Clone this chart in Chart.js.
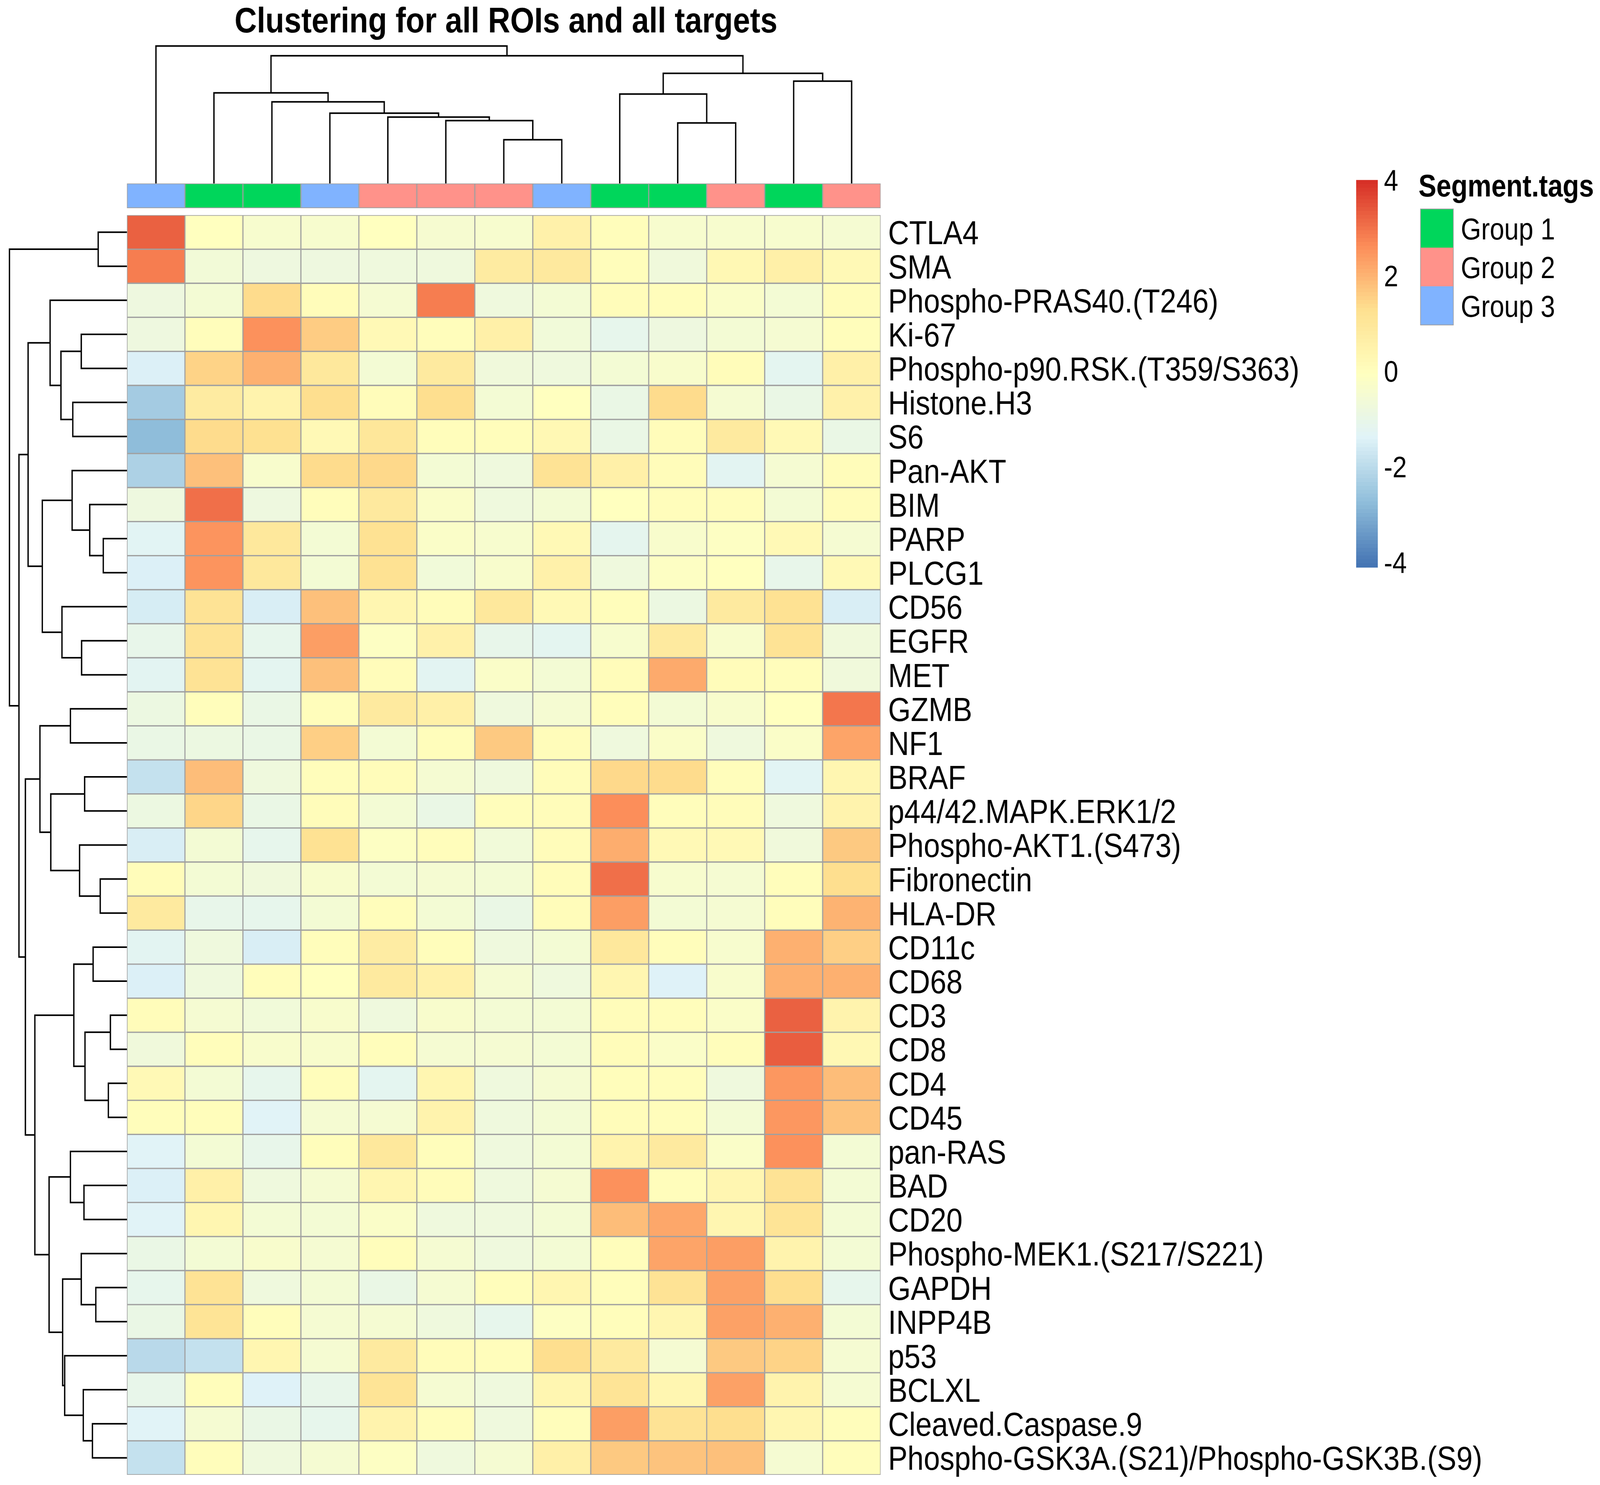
<!DOCTYPE html>
<html>
<head>
<meta charset="utf-8">
<script src="https://cdn.jsdelivr.net/npm/chart.js@4.4.1/dist/chart.umd.min.js"></script>
<style>
  html, body { margin: 0; padding: 0; width: 100%; height: 100%; background: #ffffff; overflow: hidden; }
  #frame { position: fixed; left: 0; top: 0; width: 100vw; height: 100vh; overflow: hidden; }
  #wrap { position: absolute; left: 0; top: 0; width: 4724px; height: 3802px; transform-origin: 0 0; }
</style>
</head>
<body>
<div id="frame"><div id="wrap"><canvas id="heat" width="4724" height="3802"></canvas></div></div>
<script>
/* ─── Data ─────────────────────────────────── */
const rowLabels = [
    'CTLA4', 'SMA', 'Phospho-PRAS40.(T246)', 'Ki-67', 'Phospho-p90.RSK.(T359/S363)',
    'Histone.H3', 'S6', 'Pan-AKT', 'BIM', 'PARP', 'PLCG1', 'CD56', 'EGFR', 'MET',
    'GZMB', 'NF1', 'BRAF', 'p44/42.MAPK.ERK1/2', 'Phospho-AKT1.(S473)', 'Fibronectin',
    'HLA-DR', 'CD11c', 'CD68', 'CD3', 'CD8', 'CD4', 'CD45', 'pan-RAS', 'BAD', 'CD20',
    'Phospho-MEK1.(S217/S221)', 'GAPDH', 'INPP4B', 'p53', 'BCLXL', 'Cleaved.Caspase.9',
    'Phospho-GSK3A.(S21)/Phospho-GSK3B.(S9)'
];

// Segment tag of each ROI column (1, 2, 3), in dendrogram order
const colGroups = [3, 1, 1, 3, 2, 2, 2, 3, 1, 1, 2, 1, 2];
const groupNames = ['Group 1', 'Group 2', 'Group 3'];

// scaled values, one row per target, columns in displayed order
const cellValues = [
    [3.3, 0, -0.35, -0.35, 0, -0.4, -0.35, 0.6, 0.1, -0.35, -0.35, -0.35, -0.45],
    [2.9, -0.55, -0.75, -0.75, -0.7, -0.7, 0.85, 0.95, 0.1, -0.65, 0.3, 0.65, 0.25],
    [-0.75, -0.5, 1.4, 0.15, -0.45, 2.9, -0.7, -0.5, 0.15, 0.1, -0.2, -0.5, 0.15],
    [-0.75, 0.1, 2.6, 1.65, 0.25, 0.1, 0.65, -0.6, -1.05, -0.75, -0.5, -0.45, 0.1],
    [-1.4, 1.55, 2.1, 1.0, -0.5, 0.9, -0.65, -0.7, -0.5, -0.3, 0.15, -1.15, 0.65],
    [-2.35, 0.85, 0.5, 1.35, 0.15, 1.35, -0.5, 0, -0.9, 1.4, -0.45, -0.9, 0.6],
    [-2.7, 1.4, 1.3, 0.25, 1.05, 0.1, 0.1, 0.3, -0.9, 0.15, 0.9, 0.25, -0.9],
    [-2.2, 1.85, -0.3, 1.4, 1.45, -0.5, -0.7, 1.2, 0.65, 0.15, -1.2, -0.45, 0.15],
    [-0.75, 3.1, -0.75, 0.1, 0.95, -0.2, -0.7, -0.5, 0, 0.1, 0.1, -0.5, 0.15],
    [-1.25, 2.55, 1.0, -0.5, 1.25, -0.2, -0.35, 0.25, -1.1, -0.3, -0.1, 0.25, -0.45],
    [-1.4, 2.55, 1.0, -0.5, 1.25, -0.6, -0.3, 0.6, -0.7, -0.1, 0, -1.0, 0.25],
    [-1.5, 1.2, -1.45, 1.85, 0.4, 0.15, 1.0, 0.25, 0.1, -0.8, 0.9, 1.25, -1.45],
    [-1.0, 1.2, -1.05, 2.4, -0.1, 0.6, -1.0, -1.15, -0.35, 0.9, -0.3, 1.2, -0.65],
    [-1.2, 1.2, -1.15, 1.85, 0.15, -1.2, -0.2, -0.5, 0.15, 2.2, 0.15, 0.1, -0.65],
    [-0.8, 0.1, -0.9, 0.1, 0.9, 0.65, -0.7, -0.45, 0.1, -0.5, -0.3, 0, 3.0],
    [-0.9, -0.8, -0.9, 1.6, -0.5, 0.1, 1.7, 0.15, -0.7, -0.2, -0.7, -0.2, 2.3],
    [-1.8, 1.9, -0.7, 0.1, 0.15, -0.45, -0.7, 0.15, 1.45, 1.4, 0.1, -1.25, 0.4],
    [-0.8, 1.5, -0.9, 0.15, -0.5, -0.9, 0.1, 0.15, 2.65, 0.1, 0.15, -0.7, 0.5],
    [-1.45, -0.5, -1.05, 1.25, -0.1, 0.1, -0.6, 0.15, 2.15, 0.25, 0.25, -0.65, 1.7],
    [0.15, -0.5, -0.65, -0.3, -0.5, -0.45, -0.5, 0.15, 3.1, -0.35, -0.45, 0.1, 1.35],
    [0.9, -1.0, -1.05, -0.5, 0.1, -0.5, -0.9, 0.15, 2.4, -0.5, -0.45, 0.1, 2.05],
    [-1.2, -0.7, -1.45, 0.1, 0.8, 0.1, -0.7, -0.5, 1.0, 0.1, -0.35, 2.1, 1.6],
    [-1.4, -0.7, 0.1, 0, 0.9, 0.6, -0.45, -0.7, 0.4, -1.35, -0.3, 2.1, 2.1],
    [0.15, -0.45, -0.6, -0.3, -0.7, -0.3, -0.5, -0.5, 0.15, 0.1, -0.2, 3.3, 0.5],
    [-0.65, 0.1, -0.3, -0.3, 0.1, -0.45, -0.45, -0.5, 0.15, -0.2, 0.1, 3.35, 0.3],
    [0.25, -0.5, -1.05, 0.1, -1.15, 0.4, -0.7, -0.45, 0.1, 0.1, -0.7, 2.5, 1.9],
    [0.1, 0.1, -1.3, -0.45, -0.45, 0.5, -0.7, -0.5, 0.15, 0.1, -0.5, 2.5, 1.8],
    [-1.3, -0.5, -1.0, 0.1, 1.0, 0.1, -0.7, -0.5, 0.5, 0.9, -0.2, 2.6, -0.5],
    [-1.4, 0.65, -0.7, -0.45, 0.4, 0.15, -0.7, -0.45, 2.6, 0.1, 0.4, 1.2, -0.5],
    [-1.3, 0.4, -0.5, -0.5, -0.2, -0.7, -0.7, -0.5, 1.9, 2.25, 0.4, 1.15, -0.5],
    [-0.9, -0.5, -0.3, -0.45, 0.1, -0.45, -0.7, -0.5, 0.1, 2.3, 2.4, 0.5, -0.5],
    [-1.05, 1.2, -0.7, -0.5, -0.9, -0.45, 0.1, 0.4, 0.1, 1.2, 2.35, 1.35, -1.05],
    [-0.9, 1.15, 0.1, -0.45, -0.45, -0.7, -1.05, -0.1, 0.1, 0.4, 2.35, 2.1, -0.5],
    [-2.0, -1.8, 0.4, -0.45, 0.9, 0.15, 0.1, 1.35, 0.9, -0.45, 1.7, 1.55, -0.45],
    [-1.0, 0.1, -1.35, -1.0, 1.15, -0.45, -0.7, 0.4, 1.15, 0.4, 2.35, 0.5, -0.45],
    [-1.3, -0.45, -0.9, -1.05, 0.5, 0.1, -0.7, 0.1, 2.4, 1.2, 1.35, 0.4, 0.1],
    [-1.8, 0.1, -0.7, -0.45, -0.1, -0.7, -0.45, 0.65, 1.7, 1.8, 1.85, -0.45, 0.1]
];

// hclust-style merges: negative = leaf -(index+1), positive = earlier merge (1-based)
const rowMerges = [
    [-24, -25], [-26, -27], [-10, -11], [-20, -21], [-1, -2], [-32, -33],
    [-22, -23], [-36, -37], [-9, 3], [1, 2], [-17, -18], [-29, -30],
    [-35, 8], [-13, -14], [-4, -5], [-31, 6], [-19, 4], [7, 10],
    [-6, -7], [-8, 9], [-15, -16], [-28, 12], [-34, 13], [16, 23],
    [-12, 14], [15, 19], [11, 17], [-3, 26], [22, 24], [20, 25],
    [21, 27], [18, 29], [28, 30], [31, 32], [33, 34], [5, 35]
];
const rowHeights = [
    49, 55, 70, 79, 85, 92, 100, 102, 110, 124, 125, 127,
    129, 134, 135, 135, 140, 157, 160, 162, 167, 167, 184, 190,
    192, 195, 225, 227, 230, 250, 257, 272, 292, 300, 319, 347
];

const colMerges = [
    [-7, -8], [-10, -11], [-6, 1], [-5, 3], [-4, 4], [-3, 5],
    [-9, 2], [-2, 6], [-12, -13], [7, 9], [8, 10], [-1, 11]
];
const colHeights = [112, 155, 161, 170, 180, 209, 229, 232, 262, 282, 327, 352];

const legendTicks = [4, 2, 0, -2, -4];

/* ─── Styles ───────────────────────────────── */
const palette = ['#4575B4', '#91BFDB', '#E0F3F8', '#FFFFBF', '#FEE090', '#FC8D59', '#D73027'];
const groupColors = ['#00D65B', '#FF928A', '#80B3FF'];
const gridGrey = '#A0A0A0';
const FONT = "'Liberation Sans', Arial, Helvetica, sans-serif";
const ROW_UNIT = 171.2;   // px per column unit, row dendrogram heights
const COL_UNIT = 87.16;   // px per row unit, column dendrogram heights
const ANNO_TOP = -0.93, ANNO_BOTTOM = -0.21;

// the drawing is laid out at 4724x3802; stretch it onto the viewport we get
const W = 4724, H = 3802;
const sx = (window.innerWidth || W) / W;
const sy = (window.innerHeight || H) / H;
document.getElementById('wrap').style.transform = 'scale(' + sx + ',' + sy + ')';

function hexToRgb(h) {
    return [1, 3, 5].map(i => parseInt(h.substr(i, 2), 16));
}

function colorFor(v) {
    const t = Math.max(0, Math.min(1, (v + 4) / 8)) * (palette.length - 1);
    const i = Math.min(palette.length - 2, Math.floor(t));
    const f = t - i;
    const a = hexToRgb(palette[i]), b = hexToRgb(palette[i + 1]);
    const c = a.map((x, k) => Math.round(x + (b[k] - x) * f));
    return 'rgb(' + c.join(',') + ')';
}

/* ─── Dendrogram links ─────────────────────── */
function dendroLinks(merges, heights) {
    const pos = [], hts = [], links = [];
    const get = (id) => id < 0 ? [-id - 1 + 0.5, 0] : [pos[id - 1], hts[id - 1]];
    merges.forEach(([a, b], i) => {
        const [p1, h1] = get(a);
        const [p2, h2] = get(b);
        pos.push((p1 + p2) / 2);
        hts.push(heights[i]);
        links.push({ p1, h1, p2, h2, h: heights[i] });
    });
    return links;
}

const lineStyle = {
    type: 'line',
    borderColor: '#000000',
    borderWidth: 4,
    pointRadius: 0,
    fill: false,
    tension: 0
};

const rowDendro = dendroLinks(rowMerges, rowHeights).map(l => ({
    ...lineStyle,
    data: [
        { x: -l.h1 / ROW_UNIT, y: l.p1 },
        { x: -l.h / ROW_UNIT, y: l.p1 },
        { x: -l.h / ROW_UNIT, y: l.p2 },
        { x: -l.h2 / ROW_UNIT, y: l.p2 }
    ]
}));

const colDendro = dendroLinks(colMerges, colHeights).map(l => ({
    ...lineStyle,
    data: [
        { x: l.p1, y: ANNO_TOP - l.h1 / COL_UNIT },
        { x: l.p1, y: ANNO_TOP - l.h / COL_UNIT },
        { x: l.p2, y: ANNO_TOP - l.h / COL_UNIT },
        { x: l.p2, y: ANNO_TOP - l.h2 / COL_UNIT }
    ]
}));

/* ─── Heatmap cells as floating bars ───────── */
const cellStyle = {
    type: 'bar',
    borderColor: gridGrey,
    borderWidth: 2,
    borderSkipped: false,
    barPercentage: 1,
    categoryPercentage: 1
};

const rowDatasets = cellValues.map((vals, r) => ({
    ...cellStyle,
    label: rowLabels[r],
    data: vals.map((v, c) => ({ x: c + 0.5, y: [r, r + 1] })),
    backgroundColor: vals.map(colorFor)
}));

const annoDataset = {
    ...cellStyle,
    label: 'Segment.tags',
    data: colGroups.map((g, c) => ({ x: c + 0.5, y: [ANNO_TOP, ANNO_BOTTOM] })),
    backgroundColor: colGroups.map(g => groupColors[g - 1])
};

/* ─── Texts and legends ────────────────────── */
const decorPlugin = {
    id: 'decor',
    afterDraw(chart) {
        const ctx = chart.ctx;
        const y = chart.scales.y;
        ctx.save();
        ctx.fillStyle = '#000000';

        // title
        ctx.font = 'bold 91px ' + FONT;
        ctx.textAlign = 'center';
        ctx.textBaseline = 'alphabetic';
        ctx.fillText('Clustering for all ROIs and all targets', 1494, 83);

        // row labels
        ctx.font = '86px ' + FONT;
        ctx.textAlign = 'left';
        rowLabels.forEach((lab, r) => {
            ctx.fillText(lab, chart.chartArea.right + 22, y.getPixelForValue(r + 0.5) + 31);
        });

        // colour key
        const barL = 4004, barW = 64, mid = 956.5, perUnit = 122.4;
        const top = mid - 4.05 * perUnit, bottom = mid + 4.05 * perUnit;
        const steps = 100;
        for (let i = 0; i < steps; i++) {
            const v = 4.05 - (i + 0.5) * 8.1 / steps;
            ctx.fillStyle = colorFor(v);
            const y0 = top + i * (bottom - top) / steps;
            ctx.fillRect(barL, y0, barW, (bottom - top) / steps + 1);
        }
        ctx.fillStyle = '#000000';
        ctx.font = '76px ' + FONT;
        ctx.textBaseline = 'middle';
        legendTicks.forEach(t => {
            ctx.fillText(String(t), 4086, mid - t * perUnit);
        });

        // annotation legend
        ctx.textBaseline = 'alphabetic';
        ctx.font = 'bold 79px ' + FONT;
        ctx.fillText('Segment.tags', 4188, 503);
        ctx.font = '77px ' + FONT;
        const boxTop = 535, boxH = 99;
        groupNames.forEach((name, i) => {
            const by = boxTop + i * boxH;
            ctx.fillStyle = groupColors[i];
            ctx.fillRect(4194, by, 97, boxH);
            ctx.fillStyle = '#000000';
            ctx.fillText(name, 4313, by + boxH / 2 + 28);
        });
        ctx.strokeStyle = gridGrey;
        ctx.lineWidth = 2;
        ctx.strokeRect(4194, boxTop, 97, boxH * 3);
        ctx.restore();
    }
};

new Chart(document.getElementById('heat'), {
    data: {
        datasets: [...rowDatasets, annoDataset, ...rowDendro, ...colDendro]
    },
    options: {
        responsive: false,
        maintainAspectRatio: false,
        devicePixelRatio: 1,
        animation: false,
        events: [],
        layout: { padding: { left: 12, right: 2124, top: 102, bottom: 26 } },
        plugins: {
            legend: { display: false },
            tooltip: { enabled: false },
            title: { display: false }
        },
        scales: {
            x: {
                type: 'linear',
                display: false,
                offset: false,
                grid: { offset: false },
                stacked: true,
                min: -2.12,
                max: 13,
                afterBuildTicks: (scale) => {
                    scale.ticks = colGroups.map((g, c) => ({ value: c })).concat([{ value: 13 }]);
                }
            },
            y: {
                type: 'linear',
                display: false,
                stacked: false,
                reverse: true,
                min: -5.15,
                max: 37
            }
        }
    },
    plugins: [decorPlugin]
});
</script>
</body>
</html>
